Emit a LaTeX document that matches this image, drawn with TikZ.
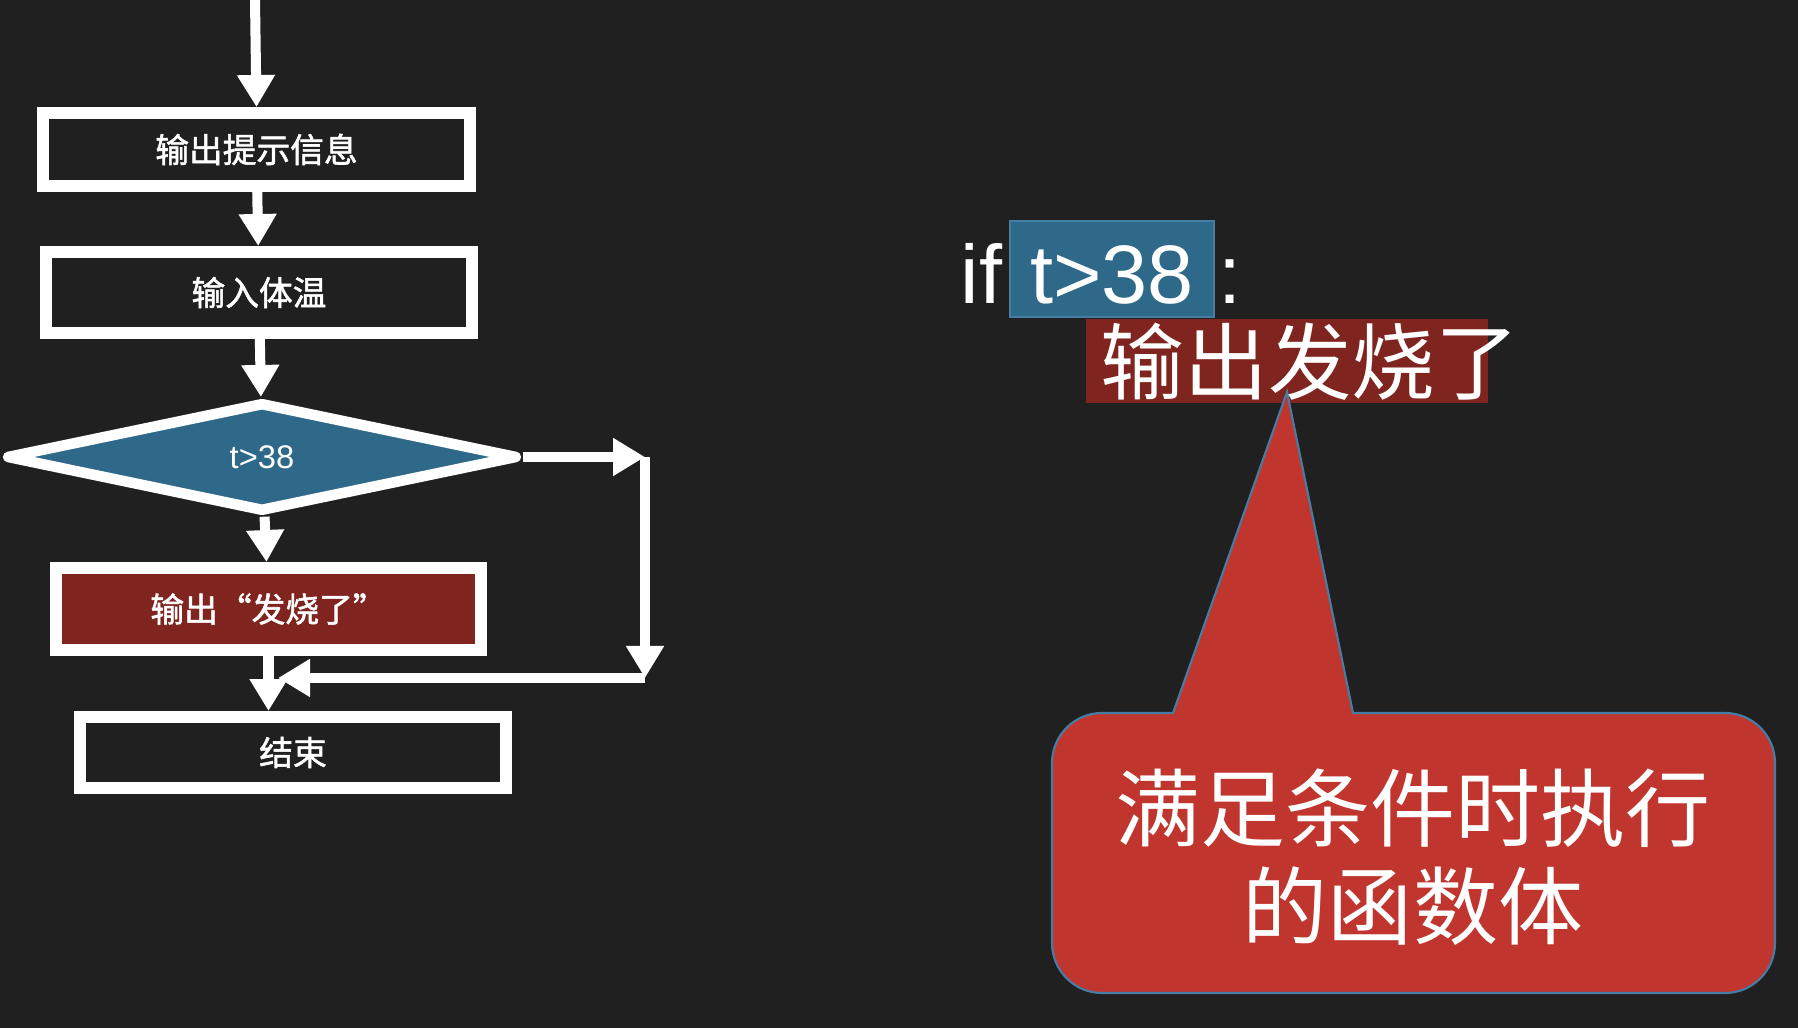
\documentclass[tikz,border=0pt]{standalone}
\usepackage{fontspec}
\setmainfont{Liberation Sans}
\newfontfamily\cjk{Noto Sans CJK SC}
\newfontfamily\cjkbox{Noto Sans CJK SC}[FakeBold=1.6]
\usetikzlibrary{shapes.geometric, arrows.meta}
\definecolor{board}{RGB}{32,32,32}
\definecolor{condblue}{RGB}{47,105,137}
\definecolor{outred}{RGB}{128,36,31}
\definecolor{tipred}{RGB}{192,54,47}
\definecolor{edgeblue}{RGB}{70,125,165}

\begin{document}
\begin{tikzpicture}[
    box/.style={draw=white, line width=3.4pt, inner sep=0pt, text=white,
        font=\cjkbox\fontsize{9.6}{11}\selectfont},
    flow/.style={draw=white, line width=2.85pt, -{Triangle[length=0.32cm, width=0.36cm]}},
    big/.style={text=white, inner sep=0pt, font=\fontsize{23.6}{28}\selectfont}]
    \useasboundingbox (0,0) rectangle (17.98,10.28);
    \fill[board] (0,0) rectangle (17.98,10.28);
    \node[box, minimum width=4.27cm, minimum height=0.73cm] (A) at (2.565,8.785) {输出提示信息};
    \node[box, minimum width=4.26cm, minimum height=0.81cm] (B) at (2.59,7.355) {输入体温};
    \node[box, diamond, line width=3pt, line join=round, fill=condblue, minimum width=5.12cm,
        minimum height=1.10cm, font=\fontsize{9.3}{11}\selectfont] (C) at (2.62,5.71) {t>38};
    \node[box, fill=outred, minimum width=4.25cm, minimum height=0.82cm] (D) at (2.685,4.19) {输出“发烧了”};
    \node[box, minimum width=4.26cm, minimum height=0.71cm] (E) at (2.93,2.755) {结束};
    \coordinate (O) at (2.55,10.28);
    \coordinate (F) at (6.45,5.71);
    \coordinate (G) at (6.45,3.50);
    \coordinate (H) at (2.78,3.50);
    \draw[flow] (O) -- (A.north);
    \draw[flow] (A) -- (B);
    \draw[flow] (B) -- (C);
    \draw[flow] (C) -- (D);
    \draw[flow] (D.south) -- (D.south |- E.north);
    \draw[flow] (C.east) -- (F);
    \draw[flow] (F) -- (G);
    \draw[flow] (G) -- (H);
    % if-Anweisung
    \node[big, anchor=base west] (I) at (9.60,7.24) {if};
    \node[big, fill=condblue, draw=edgeblue, line width=0.6pt, anchor=base, text height=0.73cm,
        text depth=0.03cm, inner xsep=0.2cm, inner ysep=0.1cm] (T) at (11.12,7.24) {t>38};
    \node[big, anchor=base west] (K) at (12.18,7.24) {:};
    \fill[outred] (10.86,7.09) rectangle (14.88,6.25);
    \draw[fill=tipred, draw=edgeblue, line width=0.6pt] (11.73,3.15) -- (12.87,6.36) -- (13.53,3.15)
        {[rounded corners=0.5cm] -- (17.75,3.15) -- (17.75,0.35) -- (10.52,0.35) -- (10.52,3.15)} -- cycle;
    \node[big, font=\cjk\fontsize{23.8}{28}\selectfont] (L) at (13.10,6.66) {输出发烧了};
    \node[big, font=\cjk\fontsize{24.2}{27.9}\selectfont, align=center] (N) at (14.13,1.705)
        {满足条件时执行\\的函数体};
\end{tikzpicture}
\end{document}
